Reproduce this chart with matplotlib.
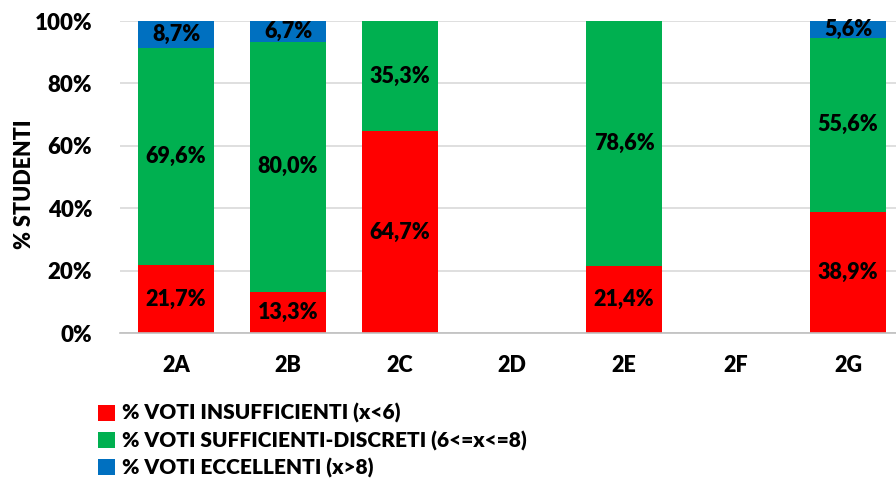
import matplotlib
matplotlib.use("Agg")
import matplotlib.pyplot as plt
from matplotlib.patches import Patch
import numpy as np

plt.rcParams['font.family'] = ['Lato', 'DejaVu Sans']
plt.rcParams['font.weight'] = 'heavy'

# data
classi = ['2A', '2B', '2C', '2D', '2E', '2F', '2G']
insufficienti = [21.7, 13.3, 64.7, 0, 21.4, 0, 38.9]
sufficienti = [69.6, 80.0, 35.3, 0, 78.6, 0, 55.6]
eccellenti = [8.7, 6.7, 0, 0, 0, 0, 5.6]
serie_nomi = ['% VOTI INSUFFICIENTI (x<6)',
              '% VOTI SUFFICIENTI-DISCRETI (6<=x<=8)',
              '% VOTI ECCELLENTI (x>8)']
colori = ['#ff0000', '#00b050', '#0070c0']

FS = 15.5
WT = 'heavy'

fig = plt.figure(figsize=(8.96, 4.79), dpi=100)
ax = fig.add_axes([120 / 896, 146 / 479, 784 / 896, 312 / 479])

x = np.arange(len(classi))
w = 0.67
bottom = np.zeros(len(classi))
for vals, col in zip([insufficienti, sufficienti, eccellenti], colori):
    vals = np.array(vals)
    ax.bar(x, vals, w, bottom=bottom, color=col, zorder=2)
    for xi, b, v in zip(x, bottom, vals):
        if v > 0:
            ax.text(xi, b + v / 2, f'{v:.1f}%'.replace('.', ','),
                    ha='center', va='center', fontsize=FS, fontweight=WT,
                    color='black', zorder=3)
    bottom += vals

ax.set_xlim(-0.5, len(classi) - 0.5)
ax.set_ylim(0, 100)
ax.set_yticks(range(0, 101, 20))
ax.set_yticklabels([f'{v}%' for v in range(0, 101, 20)], fontsize=16, fontweight=WT)
ax.set_xticks(x)
ax.set_xticklabels(classi, fontsize=FS, fontweight=WT)
ax.tick_params(length=0, pad=20)
ax.tick_params(axis='x', pad=16)
ax.yaxis.grid(True, color='#d9d9d9', linewidth=1.2, zorder=0)
for s in ['top', 'right', 'left']:
    ax.spines[s].set_visible(False)
ax.spines['bottom'].set_color('#bfbfbf')
ax.spines['bottom'].set_linewidth(1.2)
ax.set_ylabel('% STUDENTI', fontsize=FS, fontweight=WT)
ax.yaxis.set_label_coords(-0.108, 0.478)

handles = [Patch(facecolor=c) for c in colori]
fig.legend(handles, serie_nomi, loc='upper left', bbox_to_anchor=(90 / 896, 1 - 395 / 479),
           frameon=False, handlelength=0.8, handleheight=0.8,
           handletextpad=0.35, labelspacing=0.35, borderaxespad=0,
           prop={'size': 15, 'weight': WT})

fig.savefig('out.png', dpi=100)
